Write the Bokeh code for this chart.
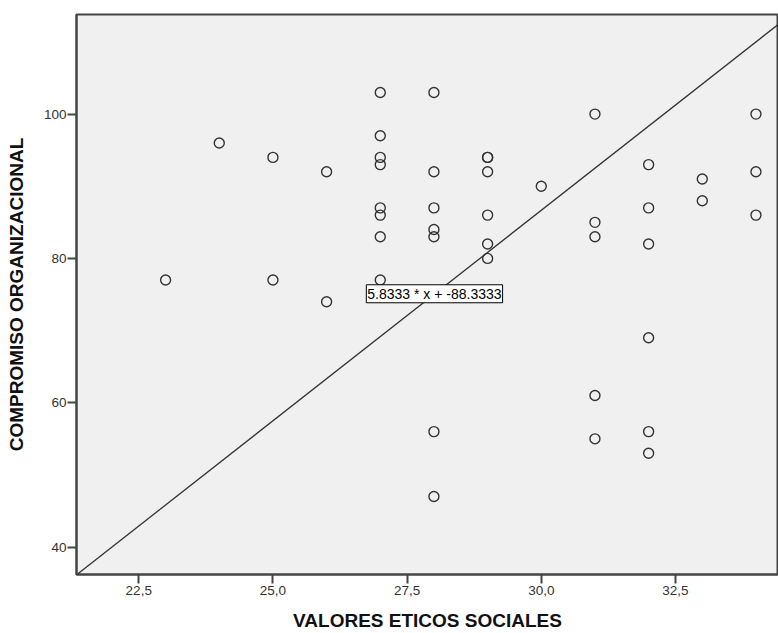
from bokeh.plotting import figure
from bokeh.models import Label, Slope, Range1d, FixedTicker, CustomJSTickFormatter
from bokeh.embed import file_html
from bokeh.resources import INLINE

# Scores per respondent: ethical/social values vs. organisational commitment
valores = [23, 24, 25, 25, 26, 26,
           27, 27, 27, 27, 27, 27, 27, 27,
           28, 28, 28, 28, 28, 28, 28,
           29, 29, 29, 29, 29, 29,
           30,
           31, 31, 31, 31, 31,
           32, 32, 32, 32, 32, 32,
           33, 33,
           34, 34, 34]
compromiso = [77, 96, 94, 77, 92, 74,
              103, 97, 94, 93, 87, 86, 83, 77,
              103, 92, 87, 84, 83, 56, 47,
              94, 94, 92, 86, 82, 80,
              90,
              100, 85, 83, 61, 55,
              93, 87, 82, 69, 56, 53,
              91, 88,
              100, 92, 86]

# Fitted line
pendiente = 5.8333
intercepto = -88.3333
ecuacion = "5.8333 * x + -88.3333"

x_ticks = [22.5, 25.0, 27.5, 30.0, 32.5]
y_ticks = [40, 60, 80, 100]

FONT = "Liberation Sans"
INK = "#333333"

p = figure(width=778, height=633, output_backend="svg", toolbar_location=None,
           x_range=Range1d(21.34, 34.42), y_range=Range1d(36.2, 113.8),
           min_border_left=76, min_border_right=0, min_border_top=14,
           min_border_bottom=56)

p.background_fill_color = "#f0f0f0"
p.border_fill_color = "white"
p.outline_line_color = "#444444"
p.outline_line_width = 2
p.xgrid.visible = False
p.ygrid.visible = False

for ax in (p.xaxis, p.yaxis):
    ax.axis_line_color = "#444444"
    ax.axis_line_width = 2
    ax.major_tick_line_color = "#444444"
    ax.major_tick_line_width = 2
    ax.major_tick_out = 9
    ax.major_tick_in = 0
    ax.minor_tick_line_color = None
    ax.major_label_text_font = FONT
    ax.major_label_text_font_size = "13.5px"
    ax.major_label_text_color = INK
    ax.axis_label_text_font = FONT
    ax.axis_label_text_font_size = "19px"
    ax.axis_label_text_font_style = "bold"
    ax.axis_label_text_color = "#111111"
    ax.axis_label_text_line_height = 0.6

p.xaxis.ticker = FixedTicker(ticks=x_ticks)
p.yaxis.ticker = FixedTicker(ticks=y_ticks)
p.xaxis.formatter = CustomJSTickFormatter(code="return tick.toFixed(1).replace('.', ',');")
p.xaxis.axis_label = "VALORES ETICOS SOCIALES"
p.yaxis.axis_label = "COMPROMISO ORGANIZACIONAL"
p.xaxis.major_label_standoff = 2
p.yaxis.major_label_standoff = 1
p.xaxis.axis_label_standoff = 12
p.yaxis.axis_label_standoff = 14

p.scatter(valores, compromiso, marker="circle", size=10,
          fill_color=None, line_color=INK, line_width=1.4)

p.add_layout(Slope(gradient=pendiente, y_intercept=intercepto,
                   line_color=INK, line_width=1.3))

p.add_layout(Label(x=26.74, y=75.1, text=ecuacion, text_align="left",
                   text_baseline="middle", text_font=FONT,
                   text_font_size="14px", text_color="black",
                   background_fill_color="white", border_line_color="black",
                   border_line_width=1, padding=1))

open("out.html", "w").write(file_html(p, INLINE))
